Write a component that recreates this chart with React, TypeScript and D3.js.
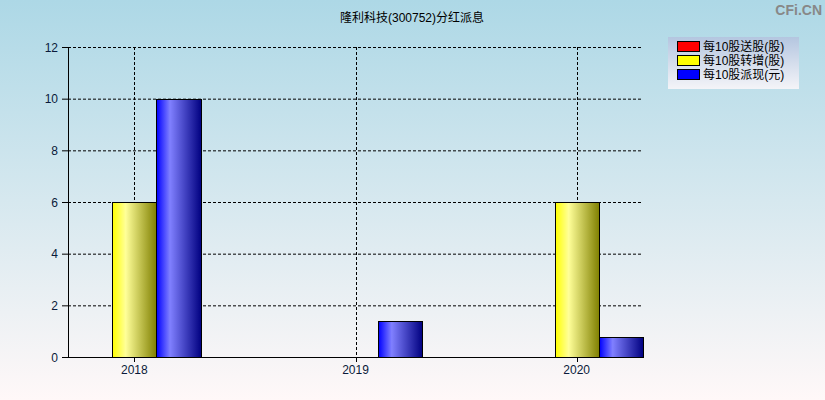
import React from "react";
import * as d3 from "d3";

const title = "隆利科技(300752)分红派息";
const categories = ["2018", "2019", "2020"];
const seriesNames = ["每10股送股(股)", "每10股转增(股)", "每10股派现(元)"];
const songGu = [0, 0, 0];
const zhuanZeng = [6, 0, 6];
const paiXian = [10, 1.4, 0.77];
const yTicks = [0, 2, 4, 6, 8, 10, 12];

const W = 825, H = 400;
const M = { left: 68, right: 643, top: 47, bottom: 357 };

export default function App() {
  const series = [songGu, zhuanZeng, paiXian];
  const x = d3.scaleLinear().domain([-0.3, categories.length - 1 + 0.3]).range([M.left, M.right]);
  const y = d3.scaleLinear().domain([0, 12]).range([M.bottom, M.top]);
  const barW = 0.2;
  const gradIds = ["gRed", "gYellow", "gBlue"];
  const cols = [
    ["#ff0000", "#ff8080", "#800000"],
    ["#ffff00", "#ffff99", "#7f7f00"],
    ["#0000ff", "#8080ff", "#000080"],
  ];
  const font = "'Liberation Sans', Arial, 'Noto Sans CJK SC', sans-serif";
  return (
    <svg width={W} height={H} style={{ display: "block", position: "absolute", left: 0, top: 0 }}>
      <defs>
        <linearGradient id="bg" x1="0" y1="0" x2="0" y2="1">
          <stop offset="0" stopColor="#add8e6" />
          <stop offset="1" stopColor="#fff8f8" />
        </linearGradient>
        <linearGradient id="lg" x1="0" y1="0" x2="0" y2="1">
          <stop offset="0" stopColor="#b4c6e0" />
          <stop offset="1" stopColor="#f4f4f8" />
        </linearGradient>
        {gradIds.map((id, i) => (
          <linearGradient key={id} id={id} x1="0" y1="0" x2="1" y2="0">
            <stop offset="0" stopColor={cols[i][0]} />
            <stop offset="0.3" stopColor={cols[i][1]} />
            <stop offset="1" stopColor={cols[i][2]} />
          </linearGradient>
        ))}
      </defs>
      <rect x={0} y={0} width={W} height={H} fill="url(#bg)" />
      <text x={412} y={22} textAnchor="middle" fontSize={12} fontFamily={font} fill="#000">{title}</text>
      <text x={822} y={15} textAnchor="end" fontSize={14} fontFamily={font} fill="#888" fontWeight="bold">CFi.CN</text>
      {/* horizontal grid */}
      {yTicks.filter((t) => t > 0).map((t) => (
        <line key={t} x1={M.left} x2={M.right} y1={y(t) + 0.5} y2={y(t) + 0.5} stroke="#000" strokeDasharray="3,2" />
      ))}
      {categories.map((c, i) => (
        <line key={c} x1={Math.round(x(i)) + 0.5} x2={Math.round(x(i)) + 0.5} y1={M.top} y2={M.bottom} stroke="#000" strokeDasharray="3,2" />
      ))}
      {/* bars */}
      {categories.map((c, i) =>
        series.map((s, k) => {
          const v = s[i];
          if (!v) return null;
          const x0 = x(i - 0.3 + k * barW);
          const x1 = x(i - 0.3 + (k + 1) * barW);
          return (
            <rect key={c + k} x={Math.round(x0) + 0.5} y={Math.round(y(v)) + 0.5} width={Math.round(x1) - Math.round(x0)}
              height={Math.round(y(0)) - Math.round(y(v))} fill={`url(#${gradIds[k]})`} stroke="#000" strokeWidth={1} />
          );
        })
      )}
      {/* axes */}
      <line x1={M.left + 0.5} x2={M.left + 0.5} y1={M.top} y2={M.bottom} stroke="#000" />
      <line x1={M.left} x2={M.right + 1} y1={M.bottom + 0.5} y2={M.bottom + 0.5} stroke="#000" />
      {yTicks.map((t) => (
        <g key={t}>
          <line x1={M.left - 6} x2={M.left} y1={y(t) + 0.5} y2={y(t) + 0.5} stroke="#000" />
          <text x={M.left - 10} y={y(t) + 4.5} textAnchor="end" fontSize={12} fontFamily={font} fill="#0a1a3a">{t}</text>
        </g>
      ))}
      {categories.map((c, i) => (
        <g key={c}>
          <line x1={Math.round(x(i)) + 0.5} x2={Math.round(x(i)) + 0.5} y1={M.bottom} y2={M.bottom + 5} stroke="#000" />
          <text x={x(i)} y={M.bottom + 17} textAnchor="middle" fontSize={12} fontFamily={font} fill="#0a1a3a">{c}</text>
        </g>
      ))}
      {/* legend */}
      <rect x={668} y={37} width={131} height={52} fill="url(#lg)" />
      {seriesNames.map((n, k) => (
        <g key={n}>
          <rect x={677.5} y={41.5 + k * 14} width={22} height={10} fill={cols[k][0]} stroke="#000" />
          <text x={703} y={51 + k * 14} fontSize={12} fontFamily={font} fill="#000">{n}</text>
        </g>
      ))}
    </svg>
  );
}
